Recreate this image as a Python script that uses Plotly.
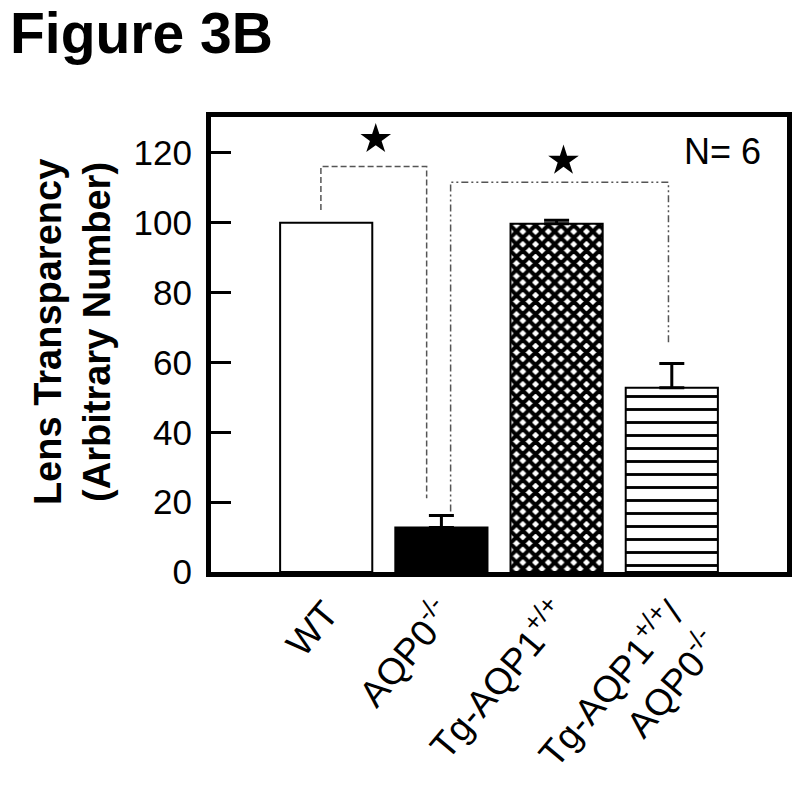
import plotly.graph_objects as go

# ---- data ----
groups = ["WT", "AQP0<sup>-/-</sup>", "Tg-AQP1<sup>+/+</sup>",
          "Tg-AQP1<sup>+/+</sup>/<br>AQP0<sup>-/-</sup>"]
positions = [0, 1, 2, 3]
means = [100, 12.75, 99.7, 52.8]
sem = [0, 3.4, 1.0, 6.9]
y_ticks = [0, 20, 40, 60, 80, 100, 120]
fills = ["white", "black", "white", "white"]
patterns = ["", "", "x", "-"]
pattern_sizes = [8, 8, 9, 13]
pattern_solidity = [0.3, 0.3, 0.7, 0.22]

# significance brackets (data coordinates)
bracket1_x = [-0.046, -0.046, 0.872, 0.872]
bracket1_y = [103.7, 116.1, 116.1, 21.1]
bracket2_x = [1.08, 1.08, 2.971, 2.971]
bracket2_y = [17.3, 111.6, 111.6, 65]
star_x = [0.43, 2.06]
star_y = [124, 117.8]

FONT = "Arial, Liberation Sans, sans-serif"

fig = go.Figure()

for i in range(len(positions)):
    marker = dict(color=fills[i], line=dict(color="black", width=2))
    if patterns[i]:
        marker["pattern"] = dict(shape=patterns[i], fgcolor="black",
                                 fgopacity=1, bgcolor="white",
                                 size=pattern_sizes[i],
                                 solidity=pattern_solidity[i])
    kw = {}
    if sem[i] > 0:
        kw["error_y"] = dict(type="data", symmetric=False, array=[sem[i]],
                             arrayminus=[0], color="black", thickness=3,
                             width=12.5)
    fig.add_trace(go.Bar(x=[positions[i]], y=[means[i]], width=0.8,
                         marker=marker, showlegend=False, hoverinfo="skip",
                         **kw))

fig.add_trace(go.Scatter(
    x=bracket1_x, y=bracket1_y, mode="lines",
    line=dict(color="#555555", width=1.5, dash="6px,3px"),
    showlegend=False, hoverinfo="skip"))
fig.add_trace(go.Scatter(
    x=bracket2_x, y=bracket2_y, mode="lines",
    line=dict(color="#555555", width=1.5, dash="7px,3px,2px,3px,2px,3px"),
    showlegend=False, hoverinfo="skip"))
fig.add_trace(go.Scatter(
    x=star_x, y=star_y, mode="markers",
    marker=dict(symbol="star", size=23, color="black"),
    showlegend=False, hoverinfo="skip"))

fig.add_annotation(
    text="N= 6", xref="paper", yref="y", x=0.958, y=120.4,
    xanchor="right", yanchor="middle", showarrow=False,
    font=dict(family=FONT, size=36, color="black"))

fig.add_annotation(
    text="<b>Lens Transparency<br>(Arbitrary Number)</b>",
    xref="paper", yref="paper", x=-0.2415, y=0.527, textangle=-90,
    xanchor="center", yanchor="middle", showarrow=False,
    font=dict(family=FONT, size=38, color="black"))

fig.update_layout(
    width=800, height=785,
    margin=dict(l=210.5, r=13, t=116.5, b=212.5),
    paper_bgcolor="white", plot_bgcolor="white",
    font=dict(family=FONT, color="black"),
    barmode="overlay",
    title=dict(text="<b>Figure 3B</b>", x=0.0125, xanchor="left",
               xref="container", yref="container", y=1 - 13 / 785,
               yanchor="top", font=dict(family=FONT, size=57, color="black")),
)

fig.update_xaxes(
    range=[-1, 4], tickvals=positions, ticktext=groups,
    tickangle=-50, ticks="", showline=True, mirror=True, linewidth=5,
    linecolor="black", showgrid=False, zeroline=False, automargin=False,
    tickfont=dict(family=FONT, size=37, color="black"),
)
fig.update_yaxes(
    range=[0, 130.3], tickvals=y_ticks, ticks="inside", ticklen=20,
    tickwidth=3, tickcolor="black", showline=True, mirror=True,
    linewidth=5, linecolor="black", showgrid=False, zeroline=False,
    automargin=False, ticklabelstandoff=7,
    tickfont=dict(family=FONT, size=35, color="black"),
)

fig.write_html("out.html", config={"displayModeBar": False},
               post_script="document.body.style.margin='0';"
                           "document.body.style.overflow='hidden';")
